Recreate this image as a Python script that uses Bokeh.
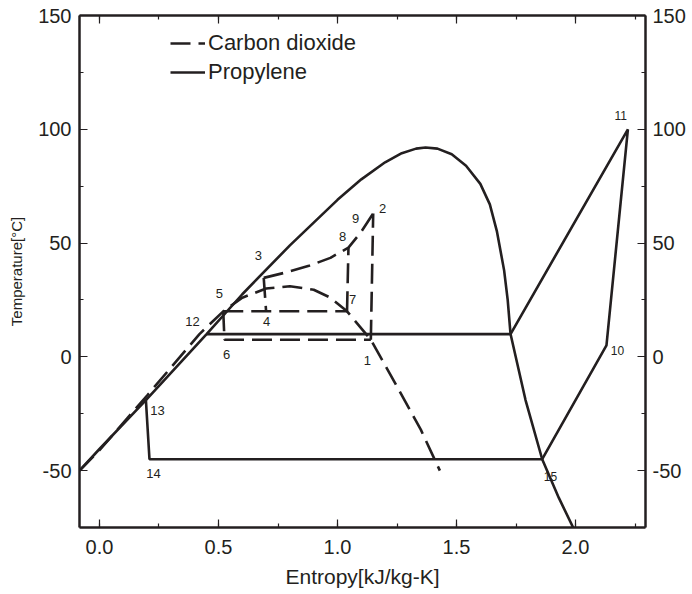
from bokeh.plotting import figure
from bokeh.models import (Range1d, LinearAxis, SingleIntervalTicker,
                          CustomJSTickFormatter, Legend, LegendItem)
from bokeh.core.properties import value
from bokeh.embed import file_html
from bokeh.resources import INLINE

# ---------------- data ----------------
# Propylene saturation dome (entropy kJ/kg-K, temperature C)
prop_dome_s = [-0.084, 0.0, 0.195, 0.45, 0.6, 0.8, 1.0, 1.1, 1.2, 1.27, 1.33, 1.37, 1.42, 1.48, 1.54, 1.6, 1.64, 1.67, 1.70, 1.715, 1.727, 1.79, 1.86, 1.93, 1.99]
prop_dome_T = [-50, -40.5, -19, 10, 27.5, 49, 69, 78, 85.5, 89.5, 91.5, 92, 91.5, 89, 84, 76, 67, 55, 38, 25, 10, -19, -45, -62, -75]

# Propylene cycle: 13 -> 14 -> 15 -> 10 -> 11 -> condenser -> 12
prop_cyc_s = [0.195, 0.21, 1.86, 2.13, 2.22, 1.727, 0.45]
prop_cyc_T = [-19, -45, -45, 5, 100, 10, 10]

# Carbon dioxide saturation dome
co2_dome_s = [-0.084, 0.0, 0.2, 0.42, 0.52, 0.6, 0.7, 0.8, 0.9, 0.97, 1.04, 1.14, 1.25, 1.35, 1.43]
co2_dome_T = [-50, -41, -17, 10, 20, 26, 30, 31, 29.5, 26, 20, 7.5, -13, -32, -50]

# Carbon dioxide cycle pieces
co2_hp_s = [0.69, 0.78, 0.88, 0.97, 1.046, 1.10, 1.15]      # 3 - 8 - 9 - 2
co2_hp_T = [34.7, 37, 40, 43.5, 48, 55, 63]
co2_12_s = [1.14, 1.15]        # 1 -> 2
co2_12_T = [7.5, 63]
co2_78_s = [1.04, 1.046]       # 7 -> 8
co2_78_T = [20, 48]
co2_34_s = [0.69, 0.70]        # 3 -> 4
co2_34_T = [34.7, 20]
co2_57_s = [0.52, 1.04]        # 5 -> 7
co2_57_T = [20, 20]
co2_561_s = [0.52, 0.525, 1.14]  # 5 -> 6 -> 1
co2_561_T = [20, 7.5, 7.5]

# State point labels
pt_text = ["1", "2", "3", "4", "5", "6", "7", "8", "9", "12", "13", "14"]
pt_s = [1.125, 1.19, 0.668, 0.702, 0.504, 0.534, 1.063, 1.021, 1.076, 0.391, 0.244, 0.227]
pt_T = [-1.5, 65, 44.5, 15.5, 28, 0.9, 25, 52.9, 60.8, 15.5, -23.6, -51.3]
pt2_text = ["10", "11", "15"]
pt2_s = [2.176, 2.19, 1.895]
pt2_T = [3, 106, -52.5]

x_title = "Entropy[kJ/kg-K]"
y_title = "Temperature[°C]"
series_names = ["Carbon dioxide", "Propylene"]

# ---------------- figure ----------------
INK = "#231f20"
FONT = "Liberation Sans"

p = figure(width=692, height=594, output_backend="svg", toolbar_location=None,
           x_range=Range1d(-0.084, 2.294), y_range=Range1d(-75, 150),
           x_axis_location=None, y_axis_location=None,
           min_border_left=79, min_border_right=47, min_border_top=15, min_border_bottom=67)
p.grid.visible = False
p.outline_line_color = None
p.background_fill_color = "white"
p.border_fill_color = "white"

def style_axis(ax):
    ax.axis_line_color = INK
    ax.axis_line_width = 2.5
    ax.major_tick_line_color = INK
    ax.minor_tick_line_color = INK
    ax.major_tick_line_width = 1.2
    ax.minor_tick_line_width = 1.2
    ax.major_tick_in = 8
    ax.major_tick_out = 0
    ax.minor_tick_in = 4
    ax.minor_tick_out = 0
    ax.major_label_text_font = FONT
    ax.major_label_text_color = INK
    ax.major_label_text_font_size = "20px"
    ax.major_label_standoff = 8
    ax.axis_label_text_font = FONT
    ax.axis_label_text_font_style = "normal"
    ax.axis_label_text_color = INK

xt = SingleIntervalTicker(interval=0.5, num_minor_ticks=2)
yt = SingleIntervalTicker(interval=50, num_minor_ticks=2)
xfmt = CustomJSTickFormatter(code="return tick.toFixed(1);")
yfmt = CustomJSTickFormatter(code="return String(Math.round(tick));")

xb = LinearAxis(ticker=xt, formatter=xfmt, axis_label=x_title)
style_axis(xb)
xb.major_label_standoff = 12
xb.axis_label_text_font_size = "21px"
xb.axis_label_standoff = 8
p.add_layout(xb, "below")

xa = LinearAxis(ticker=xt, formatter=CustomJSTickFormatter(code="return ''"))
style_axis(xa)
xa.major_label_standoff = 0
p.add_layout(xa, "above")

yl = LinearAxis(ticker=yt, formatter=yfmt, axis_label=y_title)
style_axis(yl)
yl.axis_label_text_font_size = "15px"
yl.axis_label_standoff = 10
p.add_layout(yl, "left")

yr = LinearAxis(ticker=yt, formatter=yfmt)
style_axis(yr)
yr.major_label_standoff = 7
p.add_layout(yr, "right")

DASH = "20 8"
LW = 2.6

r_co2 = p.line(co2_dome_s, co2_dome_T, line_color=INK, line_width=LW, line_dash=DASH)
for xs, ys in [(co2_hp_s, co2_hp_T), (co2_12_s, co2_12_T), (co2_78_s, co2_78_T),
               (co2_34_s, co2_34_T), (co2_57_s, co2_57_T), (co2_561_s, co2_561_T)]:
    p.line(xs, ys, line_color=INK, line_width=LW, line_dash=DASH)

r_prop = p.line(prop_dome_s, prop_dome_T, line_color=INK, line_width=LW)
p.line(prop_cyc_s, prop_cyc_T, line_color=INK, line_width=LW)

p.text(x=pt_s, y=pt_T, text=pt_text, text_font=value(FONT), text_font_size="13px",
       text_color=INK, text_align="center", text_baseline="middle")
p.text(x=pt2_s, y=pt2_T, text=pt2_text, text_font=value(FONT), text_font_size="12px",
       text_color=INK, text_align="center", text_baseline="middle")

legend = Legend(items=[LegendItem(label=series_names[0], renderers=[r_co2]),
                       LegendItem(label=series_names[1], renderers=[r_prop])],
                location=(91, 442), orientation="vertical",
                glyph_width=35, glyph_height=26, label_standoff=3, spacing=3,
                padding=0, margin=0, border_line_color=None, background_fill_alpha=0,
                label_text_font=FONT, label_text_font_size="22px", label_text_color=INK,
                label_height=26)
p.add_layout(legend, "center")

open("out.html", "w").write(file_html(p, INLINE))
